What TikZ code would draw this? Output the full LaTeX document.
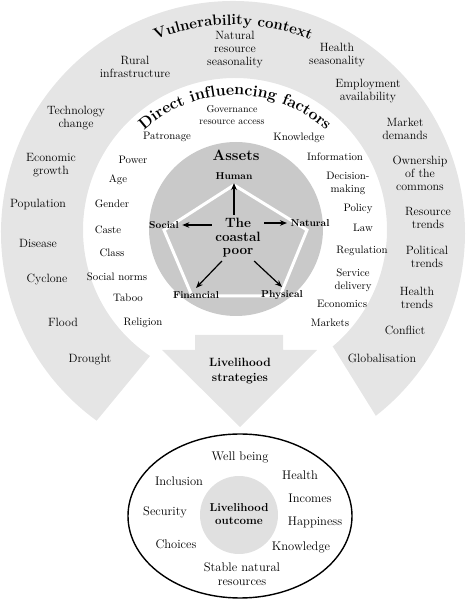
\documentclass[tikz,border=0pt]{standalone}
\usepackage{fontspec}
\usepackage{tikz}
\usetikzlibrary{arrows.meta,calc,decorations.text}
\definecolor{BandGray}{gray}{0.90}
\definecolor{AssetGray}{gray}{0.79}
\definecolor{CoreGray}{gray}{0.88}

\tikzset{
  vulnlabel/.style={align=center,font=\fontsize{12}{13}\selectfont},
  factorlabel/.style={align=center,font=\fontsize{10.8}{13}\selectfont},
  assetlabel/.style={font=\bfseries\fontsize{10}{12}\selectfont},
  outcomelabel/.style={align=center,font=\fontsize{12.5}{14}\selectfont},
  boldtitle/.style={align=center,font=\bfseries\fontsize{#1}{#1}\selectfont}
}

\begin{document}
\begin{tikzpicture}[x=1pt,y=1pt,>={Stealth[length=7pt,width=5.5pt]}]
  \useasboundingbox (0,0) rectangle (467,600);
  \coordinate (vc) at (233,367);
  \coordinate (fc) at (235,370);

  % vulnerability band and the strategies arrow
  \fill[BandGray] (vc) ++(234:232) arc[start angle=234,end angle=-52,radius=232]
    -- ($(fc)+(-50:152)$) arc[start angle=-50,end angle=236,radius=152] -- cycle;
  \fill[BandGray] (195,265) -- (283,265) -- (283,250) -- (317,250)
    -- (240,173) -- (162,250) -- (195,250) -- cycle;

  % assets disk
  \fill[AssetGray] (236,371) circle (87);
  \draw[white,line width=3pt] (234,415) -- (307,370) -- (280,304)
    -- (192,304) -- (164,370) -- cycle;

  % curved headings
  \path[decorate,decoration={text along path,text align=center,
      text={|\bfseries\fontsize{15}{18}\selectfont|Vulnerability context}}]
    (vc) ++(140:208) arc[start angle=140,end angle=40,radius=208];
  \path[decorate,decoration={text along path,text align=center,
      text={|\bfseries\fontsize{16}{18}\selectfont|Direct influencing factors}}]
    (fc) ++(150:135) arc[start angle=150,end angle=30,radius=135];

  % vulnerability context
  \node[vulnlabel] (rural) at (135,533) {Rural\\infrastructure};
  \node[vulnlabel] (nrseason) at (235,550) {Natural\\resource\\seasonality};
  \node[vulnlabel] (hseason) at (337,545) {Health\\seasonality};
  \node[vulnlabel] (employ) at (368,509) {Employment\\availability};
  \node[vulnlabel] (market) at (405,471) {Market\\demands};
  \node[vulnlabel] (commons) at (420,427) {Ownership\\of the\\commons};
  \node[vulnlabel] (techno) at (76,482) {Technology\\change};
  \node[vulnlabel] (econ) at (51,435) {Economic\\growth};
  \node[vulnlabel] (popul) at (38,395) {Population};
  \node[vulnlabel] (disease) at (38,357) {Disease};
  \node[vulnlabel] (cyclone) at (47,320) {Cyclone};
  \node[vulnlabel] (flood) at (63,278) {Flood};
  \node[vulnlabel] (drought) at (90,240) {Drought};
  \node[vulnlabel] (restrend) at (428,382) {Resource\\trends};
  \node[vulnlabel] (poltrend) at (427,343) {Political\\trends};
  \node[vulnlabel] (htrend) at (417,302) {Health\\trends};
  \node[vulnlabel] (conflict) at (405,270) {Conflict};
  \node[vulnlabel] (global) at (382,242) {Globalisation};

  % direct influencing factors
  \node[factorlabel,font=\fontsize{10}{12}\selectfont] (govern) at (232,485)
    {Governance\\resource access};
  \node[factorlabel] (patron) at (167,463) {Patronage};
  \node[factorlabel] (knowf) at (299,462) {Knowledge};
  \node[factorlabel] (power) at (133,440) {Power};
  \node[factorlabel] (inform) at (335,443) {Information};
  \node[factorlabel] (age) at (118,420) {Age};
  \node[factorlabel] (decide) at (348,417) {Decision-\\making};
  \node[factorlabel] (gender) at (112,396) {Gender};
  \node[factorlabel] (policy) at (358,391) {Policy};
  \node[factorlabel] (caste) at (108,370) {Caste};
  \node[factorlabel] (law) at (363,372) {Law};
  \node[factorlabel] (class) at (112,347) {Class};
  \node[factorlabel] (regul) at (362,349) {Regulation};
  \node[factorlabel] (norms) at (117,323) {Social norms};
  \node[factorlabel] (service) at (353,320) {Service\\delivery};
  \node[factorlabel] (taboo) at (128,302) {Taboo};
  \node[factorlabel] (econf) at (342,296) {Economics};
  \node[factorlabel] (relig) at (143,277) {Religion};
  \node[factorlabel] (markets) at (330,277) {Markets};

  % assets
  \node[boldtitle=15] (assets) at (236,445) {Assets};
  \node[assetlabel] (human) at (234,424) {Human};
  \node[assetlabel] (social) at (164,375) {Social};
  \node[assetlabel] (natural) at (310,377) {Natural};
  \node[assetlabel] (financial) at (196,305) {Financial};
  \node[assetlabel] (physical) at (282,305) {Physical};
  \node[align=center,font=\bfseries\fontsize{13.5}{13.5}\selectfont] (poor)
    at (238,362) {The\\coastal\\poor};
  \draw[->,line width=1.2pt] (poor.north -| human) -- (human.south);
  \draw[->,line width=1.2pt] (poor.west |- social) -- (social.east);
  \draw[->,line width=1.2pt] (poor.east |- natural) -- (natural.west);
  \draw[->,line width=1.2pt] (poor.235) -- (financial.north);
  \draw[->,line width=1.2pt] (poor.305) -- (physical.north);

  \node[boldtitle=12,font=\bfseries\fontsize{12}{15}\selectfont] (strategies)
    at (240,229) {Livelihood\\strategies};

  % livelihood outcome
  \draw[line width=1.4pt] (240,84) ellipse (112 and 82);
  \fill[CoreGray] (239,85) circle (39);
  \node[align=center,font=\bfseries\fontsize{11.5}{13}\selectfont] (outcome)
    at (239,86) {Livelihood\\outcome};
  \node[outcomelabel] (wellbeing) at (240,143) {Well being};
  \node[outcomelabel] (health) at (300,125) {Health};
  \node[outcomelabel] (inclusion) at (179,119) {Inclusion};
  \node[outcomelabel] (incomes) at (310,102) {Incomes};
  \node[outcomelabel] (security) at (165,88) {Security};
  \node[outcomelabel] (happy) at (315,78) {Happiness};
  \node[outcomelabel] (choices) at (176,56) {Choices};
  \node[outcomelabel] (knowo) at (301,53) {Knowledge};
  \node[outcomelabel] (stable) at (242,26) {Stable natural\\resources};
\end{tikzpicture}
\end{document}
